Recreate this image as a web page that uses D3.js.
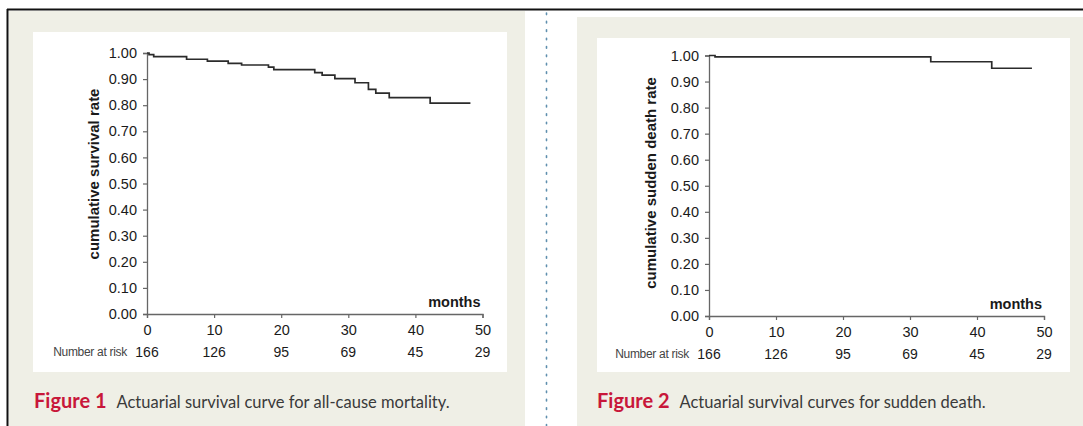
<!DOCTYPE html>
<html>
<head>
<meta charset="utf-8">
<script src="https://cdn.jsdelivr.net/npm/d3@7"></script>
<style>
  html, body { margin: 0; padding: 0; background: #fff; }
  svg { display: block; }
</style>
</head>
<body>
<svg id="fig" width="1083" height="426"></svg>
<script>
// Follow-up time axis (months) and numbers at risk
const monthTicks = [0, 10, 20, 30, 40, 50];
const numberAtRisk = ["166", "126", "95", "69", "45", "29"];
const rateTicks = [0, 0.1, 0.2, 0.3, 0.4, 0.5, 0.6, 0.7, 0.8, 0.9, 1.0];

// Figure 1: all-cause mortality, step survival estimate
const allCauseMonths = [0, 0.3, 1.0, 5.9, 9.0, 12.1, 14.1, 18.1, 18.9, 25.0, 26.1, 28.0, 31.0, 33.0, 34.1, 36.1, 42.2, 48.2];
const allCauseSurvival = [1.000, 0.994, 0.986, 0.976, 0.969, 0.960, 0.954, 0.946, 0.936, 0.925, 0.915, 0.902, 0.886, 0.861, 0.846, 0.829, 0.808, 0.808];

// Figure 2: sudden death, step survival estimate
const suddenMonths = [0, 0.9, 33.1, 42.2, 48.2];
const suddenSurvival = [1.000, 0.995, 0.976, 0.951, 0.951];

const svg = d3.select("#fig");
const axisFont = "'Liberation Sans', Arial, sans-serif";
const captionFont = "Lato, 'Open Sans', sans-serif";

// page frame rules
svg.append("line").attr("x1", 7).attr("x2", 1083).attr("y1", 9.5).attr("y2", 9.5)
  .attr("stroke", "#111").attr("stroke-width", 2);
svg.append("line").attr("x1", 7.5).attr("x2", 7.5).attr("y1", 9).attr("y2", 426)
  .attr("stroke", "#111").attr("stroke-width", 2);

// dotted column separator
svg.append("line").attr("x1", 546.5).attr("x2", 546.5).attr("y1", 13).attr("y2", 426)
  .attr("stroke", "#5f8fae").attr("stroke-width", 1.6)
  .attr("stroke-dasharray", "1.6 6.8").attr("stroke-linecap", "round");

function drawPanel(cfg) {
  const g = svg.append("g");
  // beige figure box
  g.append("rect").attr("x", cfg.box[0]).attr("y", cfg.box[1])
    .attr("width", cfg.box[2]).attr("height", cfg.box[3]).attr("fill", "#efefe6");
  // white chart area
  g.append("rect").attr("x", cfg.inner[0]).attr("y", cfg.inner[1])
    .attr("width", cfg.inner[2]).attr("height", cfg.inner[3]).attr("fill", "#ffffff");

  const x = d3.scaleLinear().domain([0, 50]).range([cfg.x0, cfg.x1]);
  const y = d3.scaleLinear().domain([0, 1]).range([cfg.y0, cfg.y1]);

  const yAxis = d3.axisLeft(y).tickValues(rateTicks).tickFormat(d3.format(".2f"))
    .tickSize(4).tickPadding(6);
  const yg = g.append("g").attr("transform", `translate(${cfg.x0},0)`).call(yAxis);

  const xAxis = d3.axisBottom(x).tickValues(monthTicks).tickSize(4).tickPadding(7);
  const xg = g.append("g").attr("transform", `translate(0,${cfg.y0})`).call(xAxis);

  [yg, xg].forEach(a => {
    a.attr("font-family", axisFont).attr("font-size", 14.5);
    a.select(".domain").attr("stroke", "#666").attr("stroke-width", 1.3);
    a.selectAll(".tick line").attr("stroke", "#666").attr("stroke-width", 1.2);
    a.selectAll(".tick text").attr("fill", "#1a1a1a");
  });

  // numbers at risk under each month tick
  g.append("g").selectAll("text").data(numberAtRisk).join("text")
    .attr("x", (d, i) => x(monthTicks[i]))
    .attr("y", cfg.y0 + 43)
    .attr("text-anchor", "middle")
    .attr("fill", "#1a1a1a")
    .attr("font-family", axisFont).attr("font-size", 14)
    .text(d => d);

  g.append("text")
    .attr("x", x(0) - 20).attr("y", cfg.y0 + 42)
    .attr("text-anchor", "end")
    .attr("fill", "#444")
    .attr("font-family", axisFont).attr("font-size", 12)
    .style("letter-spacing", "-0.3px")
    .text("Number at risk");

  g.append("text")
    .attr("x", cfg.x1 - 2).attr("y", cfg.y0 - 7)
    .attr("text-anchor", "end")
    .attr("fill", "#1a1a1a")
    .attr("font-family", axisFont).attr("font-size", 14.5).attr("font-weight", "bold")
    .text("months");

  g.append("text")
    .attr("transform", `translate(${cfg.labelX},${cfg.labelY}) rotate(-90)`)
    .attr("text-anchor", "middle")
    .attr("fill", "#1a1a1a")
    .attr("font-family", axisFont).attr("font-size", 15).attr("font-weight", "bold")
    .text(cfg.yLabel);

  // step survival curve
  const line = d3.line()
    .x((d, i) => x(cfg.t[i]))
    .y(d => y(d))
    .curve(d3.curveStepAfter);
  g.append("path").datum(cfg.s).attr("d", line)
    .attr("fill", "none").attr("stroke", "#2b2b2b").attr("stroke-width", 1.7);

  // caption
  const cap = g.append("text")
    .attr("x", cfg.capX).attr("y", 408)
    .attr("font-family", captionFont);
  cap.append("tspan").attr("fill", "#c8173a").attr("font-weight", "bold")
    .attr("font-size", 20).text(cfg.figNo);
  cap.append("tspan").attr("dx", 10).attr("fill", "#3a3a3a")
    .attr("font-size", 16.5).text(cfg.caption);
}

drawPanel({
  box: [9, 11, 516, 415],
  inner: [33, 32, 474, 340],
  x0: 147, x1: 482.5, y0: 314, y1: 53,
  labelX: 99, labelY: 174,
  yLabel: "cumulative survival rate",
  t: allCauseMonths, s: allCauseSurvival,
  capX: 34, figNo: "Figure 1",
  caption: "Actuarial survival curve for all-cause mortality."
});

drawPanel({
  box: [577, 17, 506, 409],
  inner: [597, 38, 473, 334],
  x0: 709, x1: 1044, y0: 316, y1: 55.5,
  labelX: 656, labelY: 183,
  yLabel: "cumulative sudden death rate",
  t: suddenMonths, s: suddenSurvival,
  capX: 597, figNo: "Figure 2",
  caption: "Actuarial survival curves for sudden death."
});
</script>
</body>
</html>
